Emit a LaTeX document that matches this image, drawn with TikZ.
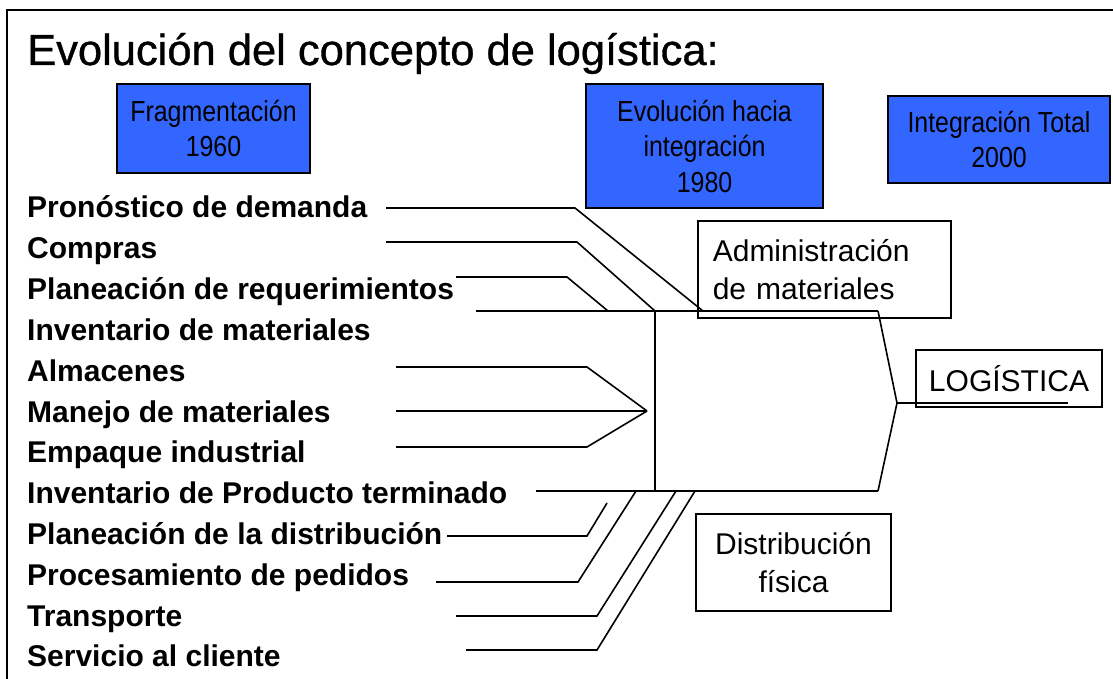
\documentclass[tikz,border=0pt]{standalone}
\usepackage{fontspec}
\setmainfont{Liberation Sans}
\newfontfamily\narrowsans[FakeStretch=0.86]{Liberation Sans}
\newfontfamily\titlesans[FakeBold=0.8]{Liberation Sans}
\definecolor{boxblue}{HTML}{3366FF}
\begin{document}
\begin{tikzpicture}[x=1pt,y=-1pt,
  ln/.style={line width=1.6pt, line join=miter},
  frameln/.style={line width=1.3pt},
  bluebox/.style={draw, line width=1.6pt, fill=boxblue, inner sep=0pt, align=center,
    font=\narrowsans\fontsize{29}{35.5}\selectfont},
  whitebox/.style={draw, line width=1.6pt, inner sep=0pt,
    font=\fontsize{30}{38}\selectfont},
  item/.style={anchor=base west, inner sep=0pt, font=\bfseries\fontsize{30}{35}\selectfont}]
\useasboundingbox (0,0) rectangle (1113,679);
\fill[white] (0,0) rectangle (1113,679);
% frame
\coordinate (fb) at (7,679);
\coordinate (fc) at (7,10);
\coordinate (fr) at (1113,10);
\draw[frameln] (fb) -- (fc) -- (fr);
% title
\node[anchor=base west, inner sep=0pt, font=\titlesans\fontsize{43.5}{50}\selectfont] (title) at (27,65) {Evolución del concepto de logística:};
% blue boxes
\node[bluebox, minimum width=193pt, minimum height=89pt] (b1) at (213.5,128.5) {Fragmentación\\1960};
\node[bluebox, minimum width=237pt, minimum height=124pt] (b2) at (704.5,146) {Evolución hacia\\integración\\1980};
\node[bluebox, minimum width=222pt, minimum height=87pt] (b3) at (999,139.5) {Integración Total\\2000};
% white boxes
\node[whitebox, align=left, text width=223pt, inner xsep=15pt, minimum height=97pt, anchor=north west] (adm) at (697,220) {Administración\\de materiales};
\node[whitebox, align=center, minimum width=186pt, minimum height=57pt] (log) at (1009,378.5) {LOGÍSTICA};
\node[whitebox, align=center, minimum width=195pt, minimum height=97pt] (dist) at (793.5,562.5) {Distribución\\física};
% items
\node[item] (t1) at (27,218) {Pronóstico de demanda};
\node[item] (t2) at (27,258.8) {Compras};
\node[item] (t3) at (27,299.6) {Planeación de requerimientos};
\node[item] (t4) at (27,340.4) {Inventario de materiales};
\node[item] (t5) at (27,381.2) {Almacenes};
\node[item] (t6) at (27,422) {Manejo de materiales};
\node[item] (t7) at (27,462.8) {Empaque industrial};
\node[item] (t8) at (27,503.6) {Inventario de Producto terminado};
\node[item] (t9) at (27,544.4) {Planeación de la distribución};
\node[item] (t10) at (27,585.2) {Procesamiento de pedidos};
\node[item] (t11) at (27,626) {Transporte};
\node[item] (t12) at (27,666.8) {Servicio al cliente};
% coordinates of the fishbone
\coordinate (a1) at (386,208); \coordinate (a2) at (575,208); \coordinate (a3) at (703,311);
\coordinate (c1) at (386,242); \coordinate (c2) at (577,242); \coordinate (c3) at (655,311);
\coordinate (p1) at (456,277); \coordinate (p2) at (567,277); \coordinate (p3) at (608,311);
\coordinate (top1) at (476,311); \coordinate (top2) at (878,311);
\coordinate (bot1) at (536,491); \coordinate (bot2) at (878,491);
\coordinate (vb) at (655,491);
\coordinate (al1) at (396,367); \coordinate (al2) at (587,367);
\coordinate (mj1) at (396,411); \coordinate (apex) at (647,411);
\coordinate (em1) at (396,447); \coordinate (em2) at (587,447);
\coordinate (rt) at (897,403); \coordinate (le) at (1068,403);
\coordinate (d11) at (447,536); \coordinate (d12) at (587,536); \coordinate (d13) at (607,503);
\coordinate (d21) at (436,582); \coordinate (d22) at (578,582); \coordinate (d23) at (636,491);
\coordinate (d31) at (456,616); \coordinate (d32) at (597,616); \coordinate (d33) at (676,491);
\coordinate (d41) at (466,650); \coordinate (d42) at (597,650); \coordinate (d43) at (695,491);
% connectors
\draw[ln] (a1) -- (a2) -- (a3);
\draw[ln] (c1) -- (c2) -- (c3);
\draw[ln] (p1) -- (p2) -- (p3);
\draw[ln] (top1) -- (top2);
\draw[ln] (c3) -- (vb);
\draw[ln] (bot1) -- (bot2);
\draw[ln] (al1) -- (al2) -- (apex);
\draw[ln] (mj1) -- (apex);
\draw[ln] (em1) -- (em2) -- (apex);
\draw[ln] (top2) -- (rt) -- (bot2);
\draw[ln] (rt) -- (le);
\draw[ln] (d11) -- (d12) -- (d13);
\draw[ln] (d21) -- (d22) -- (d23);
\draw[ln] (d31) -- (d32) -- (d33);
\draw[ln] (d41) -- (d42) -- (d43);
\end{tikzpicture}
\end{document}
